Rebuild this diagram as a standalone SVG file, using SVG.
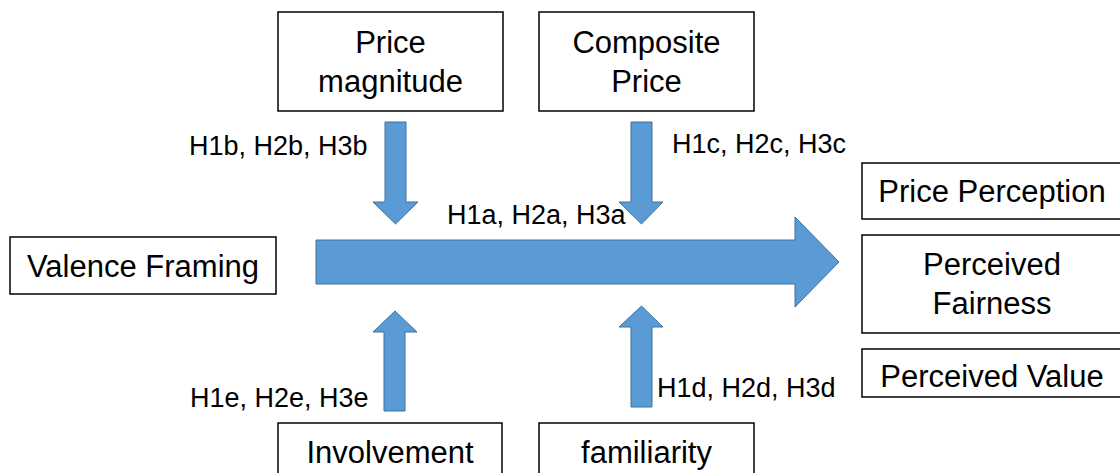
<svg xmlns="http://www.w3.org/2000/svg" width="1120" height="473" viewBox="0 0 1120 473">
<style>
.box{fill:#fff;stroke:#000;stroke-width:1.5}
.arr{fill:#5B9BD5;stroke:#41719C;stroke-width:1}
.t{font-family:"Liberation Sans",Arial,sans-serif;font-size:31px;fill:#000;text-anchor:middle}
.lb{font-family:"Liberation Sans",Arial,sans-serif;font-size:27px;fill:#000}
</style>
<rect width="1120" height="473" fill="#fff"/>
<g id="connectors">
<polygon class="arr" points="316,240 795,240 795,217 839,262 795,307 795,284 316,284"/>
<polygon class="arr" points="385,122 406,122 406,202 418,202 395.5,224 373,202 385,202"/>
<polygon class="arr" points="631,122 652,122 652,202 663,202 641.5,224 619,202 631,202"/>
<polygon class="arr" points="384,411 405,411 405,332 417,332 395,311 373,332 384,332"/>
<polygon class="arr" points="631,407 652,407 652,327 663,327 641.5,306 619,327 631,327"/>
<text class="lb" x="447" y="224">H1a, H2a, H3a</text>
<text class="lb" x="189" y="155">H1b, H2b, H3b</text>
<text class="lb" x="672" y="153">H1c, H2c, H3c</text>
<text class="lb" x="657" y="397">H1d, H2d, H3d</text>
<text class="lb" x="190" y="407">H1e, H2e, H3e</text>
</g>
<g id="price-magnitude">
<rect class="box" x="278" y="12" width="225" height="99"/>
<text class="t" x="390.5" y="53">Price</text>
<text class="t" x="390.5" y="92">magnitude</text>
</g>
<g id="composite-price">
<rect class="box" x="539" y="12" width="215" height="99"/>
<text class="t" x="646.5" y="53">Composite</text>
<text class="t" x="646.5" y="92">Price</text>
</g>
<g id="valence-framing">
<rect class="box" x="10" y="237" width="266" height="57"/>
<text class="t" x="143" y="277">Valence Framing</text>
</g>
<g id="price-perception">
<rect class="box" x="862" y="163" width="260" height="56"/>
<text class="t" x="992" y="202">Price Perception</text>
</g>
<g id="perceived-fairness">
<rect class="box" x="862" y="235" width="260" height="98"/>
<text class="t" x="992" y="275">Perceived</text>
<text class="t" x="992" y="314">Fairness</text>
</g>
<g id="perceived-value">
<rect class="box" x="862" y="349" width="260" height="48"/>
<text class="t" x="992" y="387">Perceived Value</text>
</g>
<g id="involvement">
<rect class="box" x="278" y="423" width="224" height="60"/>
<text class="t" x="390" y="463">Involvement</text>
</g>
<g id="familiarity">
<rect class="box" x="539" y="423" width="215" height="60"/>
<text class="t" x="646.5" y="463">familiarity</text>
</g>
</svg>
